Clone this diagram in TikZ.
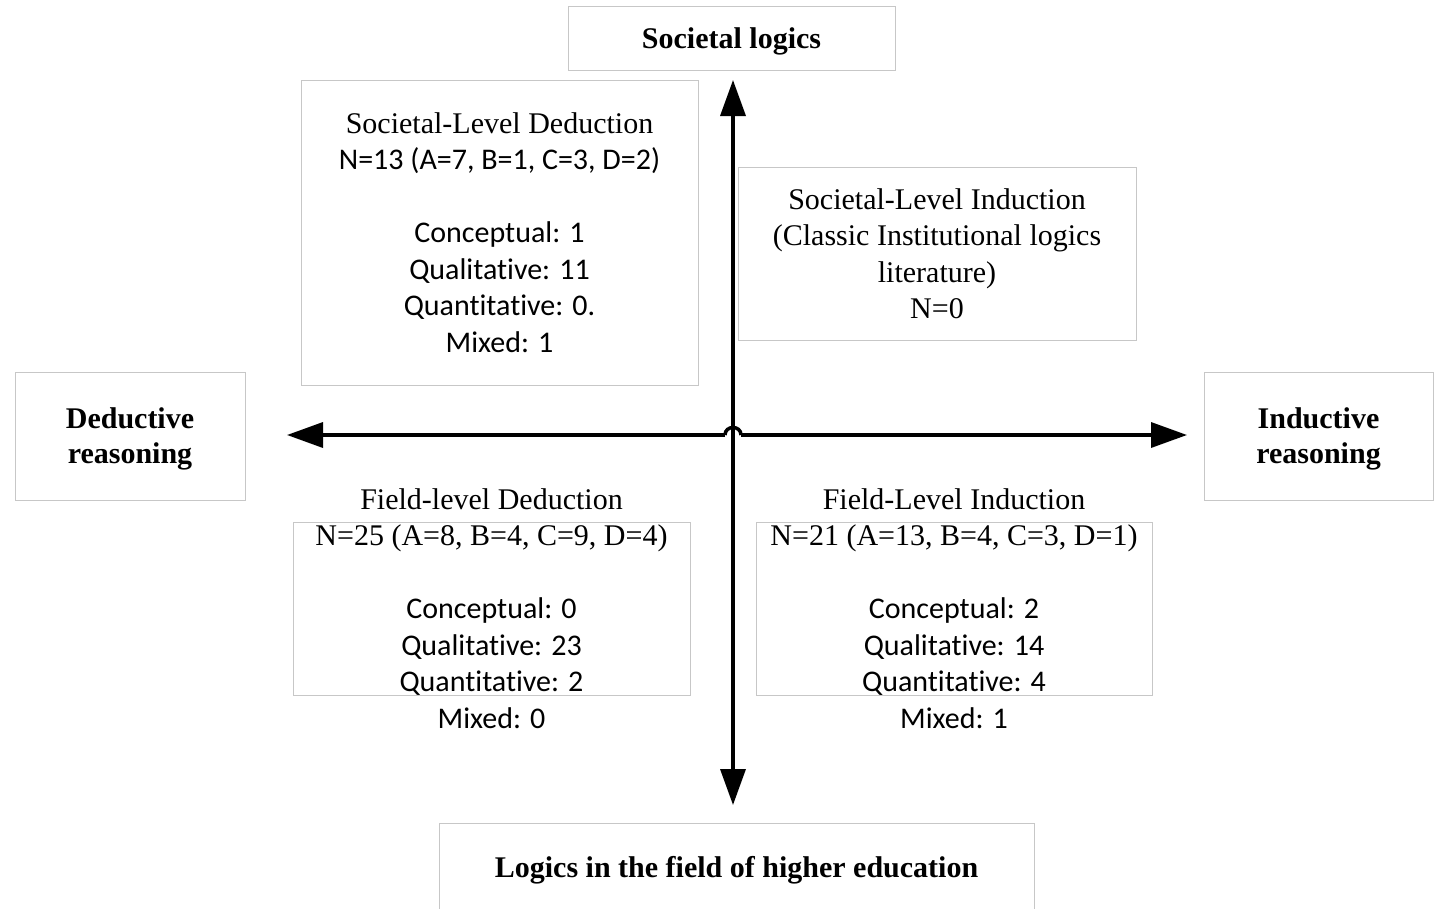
\documentclass[tikz,border=0pt]{standalone}
\usepackage{fontspec}
\setmainfont{Liberation Serif}
\setsansfont[Ligatures=NoCommon]{Carlito}
\usetikzlibrary{arrows.meta}
\newcommand\cnt{\sffamily}

\begin{document}
\begin{tikzpicture}[x=1pt,y=-1pt,
panel/.style={draw=black!22,line width=1pt,inner sep=0pt,fill=white},
pole/.style={panel,align=center,text depth=0pt,font=\fontsize{30}{35}\selectfont\bfseries},
txt/.style={align=center,font=\fontsize{30}{36.5}\selectfont},
axis/.style={line width=3.5pt,-{Triangle[length=36pt,width=25pt]}}]
\useasboundingbox (0,0) rectangle (1437,908);
% poles
\node[pole,minimum width=327,minimum height=64](soc) at (731.5,38){Societal logics};
\node[pole,minimum width=595,minimum height=88](fld) at (736.5,867){Logics in the field of higher education};
\node[pole,minimum width=230,minimum height=128](ded) at (130,436){Deductive\\reasoning};
\node[pole,minimum width=229,minimum height=128](ind) at (1318.5,436){Inductive\\reasoning};
% quadrants
\node[panel,txt,minimum width=397,minimum height=305](sld) at (499.5,232.5){Societal-Level Deduction\\
\cnt N=13 (A=7, B=1, C=3, D=2)\\ \strut\\
\cnt Conceptual: 1\\ \cnt Qualitative: 11\\ \cnt Quantitative: 0.\\ \cnt Mixed: 1};
\node[panel,txt,minimum width=398,minimum height=173](sli) at (937,253.5){Societal-Level Induction\\
(Classic Institutional logics\\ literature)\\ N=0};
\node[panel,minimum width=397,minimum height=173](fldd) at (491.5,608.5){};
\node[txt](flddtext) at (fldd.center){Field-level Deduction\\
N=25 (A=8, B=4, C=9, D=4)\\ \strut\\
\cnt Conceptual: 0\\ \cnt Qualitative: 23\\ \cnt Quantitative: 2\\ \cnt Mixed: 0};
\node[panel,minimum width=396,minimum height=173](fldi) at (954,608.5){};
\node[txt](flditext) at (fldi.center){Field-Level Induction\\
N=21 (A=13, B=4, C=3, D=1)\\ \strut\\
\cnt Conceptual: 2\\ \cnt Qualitative: 14\\ \cnt Quantitative: 4\\ \cnt Mixed: 1};
% axes
\coordinate (c) at (733,435);
\coordinate (nend) at (733,80);
\coordinate (send) at (733,805);
\coordinate (wend) at (287,435);
\coordinate (eend) at (1187,435);
\coordinate (hopw) at (725,435);
\coordinate (hope) at (741,435);
\draw[axis](c)--(nend);
\draw[axis](c)--(send);
\draw[axis](hopw)--(wend);
\draw[axis](hope)--(eend);
\draw[line width=3.5pt](hopw) .. controls +(0,-10) and +(0,-10) .. (hope);
\end{tikzpicture}
\end{document}
